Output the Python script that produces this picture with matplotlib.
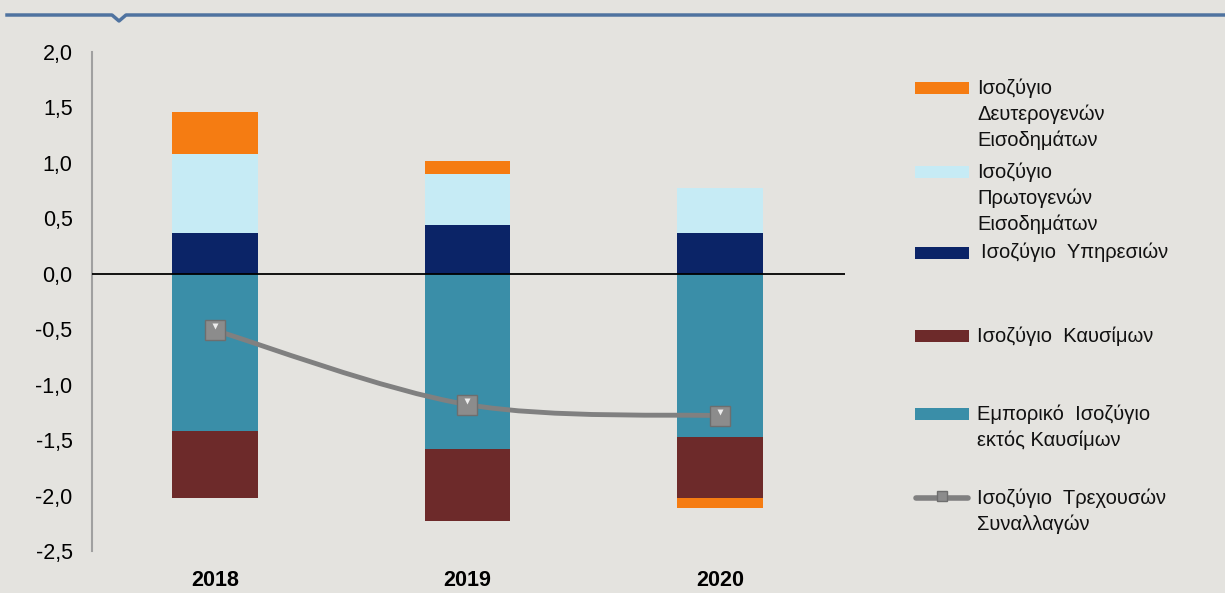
import numpy as np
import matplotlib.pyplot as plt
from matplotlib.path import Path
from matplotlib.patches import PathPatch, Rectangle
from matplotlib.lines import Line2D

plt.rcParams['font.family'] = ['Liberation Sans', 'DejaVu Sans']

# Δεδομένα (% ΑΕΠ)
years = ['2018', '2019', '2020']
services = [0.37, 0.44, 0.37]        # Ισοζύγιο Υπηρεσιών
primary = [0.71, 0.46, 0.40]         # Ισοζύγιο Πρωτογενών Εισοδημάτων
secondary = [0.38, 0.12, -0.09]      # Ισοζύγιο Δευτερογενών Εισοδημάτων
trade_nonfuel = [-1.42, -1.58, -1.47]  # Εμπορικό Ισοζύγιο εκτός Καυσίμων
fuel = [-0.60, -0.65, -0.55]         # Ισοζύγιο Καυσίμων
current_account = [-0.51, -1.18, -1.28]  # Ισοζύγιο Τρεχουσών Συναλλαγών
yticks = [2.0, 1.5, 1.0, 0.5, 0.0, -0.5, -1.0, -1.5, -2.0, -2.5]

c_orange = '#f57c12'
c_light = '#c6ebf5'
c_navy = '#0b2467'
c_teal = '#3a8ea8'
c_maroon = '#6d2a2a'
c_line = '#808080'
bg = '#e4e3df'

W, H = 1225, 593
fig = plt.figure(figsize=(W / 100, H / 100), dpi=100, facecolor=bg)


def fx(px):
    return px / W


def fy(py):
    return 1 - py / H


ax = fig.add_axes([fx(92), fy(551), fx(845) - fx(92), fy(52) - fy(551)])
ax.set_facecolor(bg)

x = np.arange(len(years))
w = 0.337

# стек положительных и отрицательных значений отдельно
pos_base = np.zeros(len(years))
neg_base = np.zeros(len(years))
for vals, col in [(services, c_navy), (primary, c_light), (trade_nonfuel, c_teal),
                  (fuel, c_maroon), (secondary, c_orange)]:
    vals = np.array(vals)
    bottoms = np.where(vals >= 0, pos_base, neg_base)
    ax.bar(x, vals, w, bottom=bottoms, color=col, linewidth=0, zorder=2)
    pos_base = pos_base + np.where(vals >= 0, vals, 0)
    neg_base = neg_base + np.where(vals < 0, vals, 0)

ax.axhline(0, color='black', lw=1.3, zorder=3)

# сглаженная линия (как в Excel)
pts = np.column_stack([x, current_account])
ext = np.vstack([pts[0], pts, pts[-1]])
verts = [tuple(pts[0])]
codes = [Path.MOVETO]
for i in range(len(pts) - 1):
    p0, p1, p2, p3 = ext[i], ext[i + 1], ext[i + 2], ext[i + 3]
    c1 = p1 + (p2 - p0) / 6
    c2 = p2 - (p3 - p1) / 6
    verts += [tuple(c1), tuple(c2), tuple(p2)]
    codes += [Path.CURVE4] * 3
ax.add_patch(PathPatch(Path(verts, codes), fill=False, edgecolor=c_line, lw=3.5,
                       capstyle='round', zorder=4))
ax.plot(x, current_account, ls='none', marker='s', ms=15, mfc='#8c8c8c',
        mec='#6e6e6e', mew=1, zorder=5)
ax.plot(x, np.array(current_account) + 0.035, ls='none', marker='v', ms=5,
        mfc='#eeeeee', mec='none', zorder=6)

ax.set_xlim(-0.487, 2.495)
ax.set_ylim(-2.5, 2.0)
ax.set_yticks(yticks)
ax.set_yticklabels([f'{v:.1f}'.replace('.', ',') for v in yticks], fontsize=15.5)
ax.tick_params(axis='y', length=0, pad=14)
ax.set_xticks(x)
ax.set_xticklabels(years, fontsize=15.5, fontweight='bold',
                   family=['Liberation Sans Narrow', 'Liberation Sans', 'DejaVu Sans'])
ax.tick_params(axis='x', length=0, pad=14)
for s in ['top', 'right', 'bottom']:
    ax.spines[s].set_visible(False)
ax.spines['left'].set_color('#a0a0a0')
ax.spines['left'].set_linewidth(1.5)

# легенда вручную
legend = [
    (c_orange, 'bar', 88, 'Ισοζύγιο\nΔευτερογενών\nΕισοδημάτων', 977),
    (c_light, 'bar', 172, 'Ισοζύγιο\nΠρωτογενών\nΕισοδημάτων', 977),
    (c_navy, 'bar', 253, 'Ισοζύγιο  Υπηρεσιών', 981),
    (c_maroon, 'bar', 336, 'Ισοζύγιο  Καυσίμων', 977),
    (c_teal, 'bar', 414, 'Εμπορικό  Ισοζύγιο\nεκτός Καυσίμων', 977),
    (c_line, 'line', 498, 'Ισοζύγιο  Τρεχουσών\nΣυναλλαγών', 977),
]
for col, kind, yc, label, tx in legend:
    if kind == 'bar':
        fig.patches.append(Rectangle((fx(915), fy(yc + 6)), fx(54), fy(yc - 6) - fy(yc + 6),
                                     transform=fig.transFigure, facecolor=col,
                                     edgecolor='none'))
    else:
        fig.lines.append(Line2D([fx(916), fx(968)], [fy(yc), fy(yc)],
                                transform=fig.transFigure, color=col, lw=4,
                                solid_capstyle='round'))
        fig.lines.append(Line2D([fx(942)], [fy(yc - 2)], transform=fig.transFigure,
                                marker='s', ms=7, mfc='#8c8c8c', mec='#6e6e6e'))
    fig.text(fx(tx), fy(yc - 10), label, fontsize=14.5, va='top', ha='left',
             linespacing=1.42, color='#111111')

# верхняя декоративная линия с уголком
topline = '#4f73a0'
fig.lines.append(Line2D([fx(7), fx(112), fx(119), fx(126), fx(1225)],
                        [fy(15), fy(15), fy(21), fy(15), fy(15)],
                        transform=fig.transFigure, color=topline, lw=2.5))

fig.savefig('out.png', dpi=100, facecolor=bg)
